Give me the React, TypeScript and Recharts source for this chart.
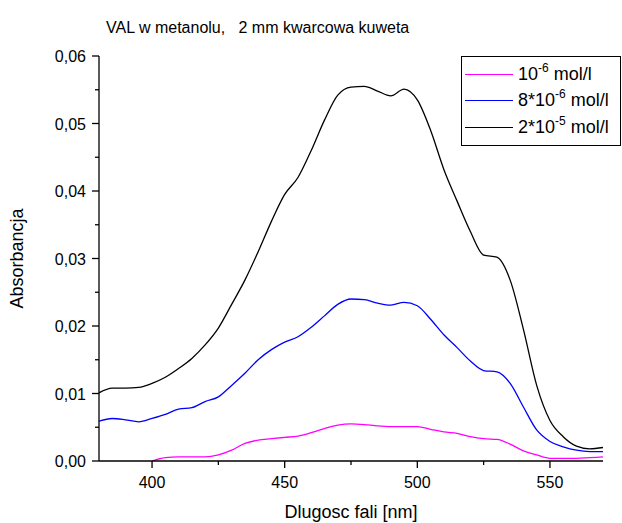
import React from 'react';
import { LineChart, Line, XAxis, YAxis, Legend, Label } from 'recharts';

const wavelengths = [
  380, 385, 390, 395, 400, 405, 410, 415, 420, 425, 430, 435, 440, 445, 450, 455, 460, 465, 470,
  475, 480, 485, 490, 495, 500, 505, 510, 515, 520, 525, 530, 535, 540, 545, 550, 555, 560, 565, 570,
];

const conc1e6 = [
  null, null, null, null, 0.0, 0.0005, 0.0006, 0.0006, 0.0006, 0.0009, 0.0016, 0.0026, 0.0031, 0.0033,
  0.0035, 0.0037, 0.0042, 0.0048, 0.0053, 0.0055, 0.0054, 0.0052, 0.0051, 0.0051, 0.0051, 0.0047,
  0.0043, 0.0041, 0.0036, 0.0033, 0.0032, 0.0025, 0.0015, 0.0009, 0.0004, 0.0004, 0.0004, 0.0005, 0.0006,
];

const conc8e6 = [
  0.0059, 0.0063, 0.0061, 0.0058, 0.0063, 0.0069, 0.0077, 0.0079, 0.0088, 0.0095, 0.0112, 0.013, 0.015,
  0.0165, 0.0176, 0.0184, 0.0198, 0.0215, 0.0232, 0.024, 0.0239, 0.0234, 0.0231, 0.0235, 0.023, 0.021,
  0.0187, 0.0168, 0.0148, 0.0134, 0.0132, 0.0115, 0.008, 0.0046, 0.0029, 0.0021, 0.0016, 0.0014, 0.0014,
];

const conc2e5 = [
  0.0101, 0.0108, 0.0108, 0.0109, 0.0115, 0.0124, 0.0137, 0.0152, 0.0172, 0.0197, 0.0232, 0.0268, 0.031,
  0.0355, 0.0395, 0.042, 0.046, 0.0505, 0.0542, 0.0554, 0.0555, 0.0548, 0.0541, 0.0551, 0.0535, 0.049,
  0.0432, 0.0385, 0.034, 0.0305, 0.0302, 0.0268, 0.0195, 0.0112, 0.006, 0.0036, 0.0022, 0.0018, 0.002,
];

const xTicks = [400, 425, 450, 475, 500, 525, 550];
const yTicks = [0, 0.005, 0.01, 0.015, 0.02, 0.025, 0.03, 0.035, 0.04, 0.045, 0.05, 0.055, 0.06];

const data = wavelengths.map((nm, i) => ({
  nm,
  a: conc1e6[i],
  b: conc8e6[i],
  c: conc2e5[i],
}));

const FONT = '"Liberation Sans", Arial, sans-serif';

const XTick = (props: any) => {
  const { x, y, payload } = props;
  const major = payload.value % 50 === 0;
  return (
    <g>
      <line x1={x} y1={y} x2={x} y2={y + (major ? 7 : 4)} stroke="#000" strokeWidth={1.3} />
      {major && (
        <text x={x} y={y + 27} textAnchor="middle" fontSize={16} fontFamily={FONT} fill="#000">
          {payload.value}
        </text>
      )}
    </g>
  );
};

const YTick = (props: any) => {
  const { x, y, payload } = props;
  const major = Math.round(payload.value * 1000) % 10 === 0;
  return (
    <g>
      <line x1={x} y1={y} x2={x - (major ? 7 : 4)} y2={y} stroke="#000" strokeWidth={1.3} />
      {major && (
        <text x={x - 13} y={y + 6} textAnchor="end" fontSize={16} fontFamily={FONT} fill="#000">
          {payload.value.toFixed(2).replace('.', ',')}
        </text>
      )}
    </g>
  );
};

const legendItems = [
  { color: '#FF00FF', pre: '10', sup: '-6', post: ' mol/l' },
  { color: '#0000FF', pre: '8*10', sup: '-6', post: ' mol/l' },
  { color: '#000000', pre: '2*10', sup: '-5', post: ' mol/l' },
];

const LegendBox = () => (
  <div
    style={{
      width: 158,
      height: 88,
      border: '1px solid #000',
      background: '#fff',
      fontFamily: FONT,
      fontSize: 18,
      color: '#000',
      boxSizing: 'content-box',
    }}
  >
    {legendItems.map((it) => (
      <div key={it.pre + it.sup} style={{ display: 'flex', alignItems: 'center', height: 26.5, marginTop: it.pre === '10' ? 4 : 0 }}>
        <div style={{ width: 48, height: 0, borderTop: `1.3px solid ${it.color}`, marginLeft: 3, marginRight: 5 }} />
        <span style={{ whiteSpace: 'nowrap' }}>
          {it.pre}
          <sup style={{ fontSize: 12, verticalAlign: 'top', position: 'relative', top: -3 }}>{it.sup}</sup>
          {it.post}
        </span>
      </div>
    ))}
  </div>
);

export default function App() {
  return (
    <div style={{ position: 'absolute', left: 0, top: 0, width: 622, height: 523, background: '#fff' }}>
      <LineChart width={622} height={523} data={data} margin={{ top: 56, right: 19, bottom: 22, left: 39 }}>
        <text x={106} y={33} textAnchor="start" fontSize={16} fontFamily={FONT} fill="#000" style={{ whiteSpace: 'pre' }}>
          {'VAL w metanolu,   2 mm kwarcowa kuweta'}
        </text>
        <XAxis
          dataKey="nm"
          type="number"
          domain={[380, 570]}
          ticks={xTicks}
          interval={0}
          allowDataOverflow
          height={40}
          tickSize={0}
          tickMargin={0}
          tickLine={false}
          tick={<XTick />}
          axisLine={{ stroke: '#000', strokeWidth: 1.3 }}
        >
          <Label value="Dlugosc fali [nm]" position="insideBottom" offset={-17} fontSize={18} fontFamily={FONT} fill="#000" />
        </XAxis>
        <YAxis
          type="number"
          domain={[0, 0.06]}
          ticks={yTicks}
          interval={0}
          allowDataOverflow
          width={60}
          tickSize={0}
          tickMargin={0}
          tickLine={false}
          tick={<YTick />}
          axisLine={{ stroke: '#000', strokeWidth: 1.3 }}
        >
          <Label
            value="Absorbancja"
            angle={-90}
            position="insideLeft"
            offset={-22}
            fontSize={18}
            fontFamily={FONT}
            fill="#000"
            style={{ textAnchor: 'middle' }}
          />
        </YAxis>
        <Legend
          layout="vertical"
          align="center"
          verticalAlign="middle"
          content={<LegendBox />}
          wrapperStyle={{ position: 'absolute', left: 461, top: 56, width: 160 }}
        />
        <Line dataKey="a" type="monotone" stroke="#FF00FF" strokeWidth={1.3} dot={false} isAnimationActive={false} connectNulls={false} />
        <Line dataKey="b" type="monotone" stroke="#0000FF" strokeWidth={1.3} dot={false} isAnimationActive={false} />
        <Line dataKey="c" type="monotone" stroke="#000000" strokeWidth={1.3} dot={false} isAnimationActive={false} />
      </LineChart>
    </div>
  );
}
